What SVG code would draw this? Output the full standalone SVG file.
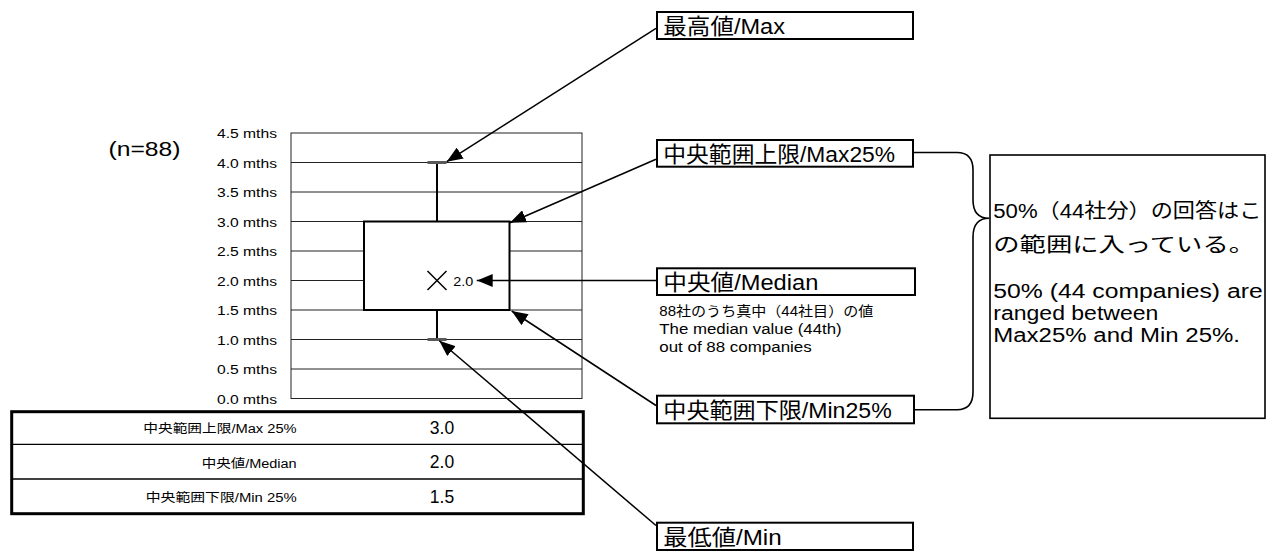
<svg xmlns="http://www.w3.org/2000/svg" width="1269" height="551" viewBox="0 0 1269 551">
<style>
text{font-family:"Liberation Sans","Noto Sans CJK JP",sans-serif;fill:#000}
.ax{font-size:12px;text-anchor:end}
.grid{stroke:#222;stroke-width:1;fill:none}
.lbl rect{fill:#fff;stroke:#000;stroke-width:2}
.lbl text{font-size:22px}
.conn line{stroke:#000;stroke-width:1.5}
.sub{font-size:14px}
.rb{font-size:20px}
.tl{font-size:12.5px;text-anchor:end}
.tv{font-size:17.5px;text-anchor:middle}
</style>
<defs>
<marker id="ah" markerUnits="userSpaceOnUse" markerWidth="16" markerHeight="13" refX="16" refY="6.5" orient="auto">
<path d="M0,0 L16,6.5 L0,13 z" fill="#000"/>
</marker>
</defs>
<rect width="1269" height="551" fill="#fff"/>

<g id="n-label"><text x="108.5" y="156" font-size="20" textLength="72" lengthAdjust="spacingAndGlyphs">(n=88)</text></g>

<g id="chart">
<g id="axis-labels">
<text class="ax" x="277" y="138" textLength="60" lengthAdjust="spacingAndGlyphs">4.5 mths</text>
<text class="ax" x="277" y="167.5" textLength="60" lengthAdjust="spacingAndGlyphs">4.0 mths</text>
<text class="ax" x="277" y="197" textLength="60" lengthAdjust="spacingAndGlyphs">3.5 mths</text>
<text class="ax" x="277" y="226.5" textLength="60" lengthAdjust="spacingAndGlyphs">3.0 mths</text>
<text class="ax" x="277" y="256" textLength="60" lengthAdjust="spacingAndGlyphs">2.5 mths</text>
<text class="ax" x="277" y="285.5" textLength="60" lengthAdjust="spacingAndGlyphs">2.0 mths</text>
<text class="ax" x="277" y="315" textLength="60" lengthAdjust="spacingAndGlyphs">1.5 mths</text>
<text class="ax" x="277" y="344.5" textLength="60" lengthAdjust="spacingAndGlyphs">1.0 mths</text>
<text class="ax" x="277" y="374" textLength="60" lengthAdjust="spacingAndGlyphs">0.5 mths</text>
<text class="ax" x="277" y="403.5" textLength="60" lengthAdjust="spacingAndGlyphs">0.0 mths</text>
</g>
<g id="gridlines" class="grid">
<rect x="291" y="133" width="291" height="265.5"/>
<line x1="291" y1="162.5" x2="582" y2="162.5"/>
<line x1="291" y1="192" x2="582" y2="192"/>
<line x1="291" y1="221.5" x2="582" y2="221.5"/>
<line x1="291" y1="251" x2="582" y2="251"/>
<line x1="291" y1="280.5" x2="582" y2="280.5"/>
<line x1="291" y1="310" x2="582" y2="310"/>
<line x1="291" y1="339.5" x2="582" y2="339.5"/>
<line x1="291" y1="369" x2="582" y2="369"/>
</g>
<g id="boxplot">
<line x1="437" y1="162.5" x2="437" y2="221.5" stroke="#000" stroke-width="2"/>
<line x1="437" y1="310" x2="437" y2="339.5" stroke="#000" stroke-width="2"/>
<rect x="364" y="221.5" width="145.5" height="88.5" fill="#fff" stroke="#000" stroke-width="2"/>
<line x1="427.5" y1="162.5" x2="446.5" y2="162.5" stroke="#595959" stroke-width="3"/>
<line x1="427.5" y1="339.5" x2="446.5" y2="339.5" stroke="#595959" stroke-width="3"/>
<path d="M427.5,271 L446.5,290 M446.5,271 L427.5,290" stroke="#000" stroke-width="1.5" fill="none"/>
<text x="453.3" y="285.7" font-size="13.5" textLength="20" lengthAdjust="spacingAndGlyphs">2.0</text>
</g>
</g>

<g id="table">
<rect x="11.7" y="411.7" width="571.6" height="102" fill="#fff" stroke="#000" stroke-width="3"/>
<line x1="11.7" y1="444.3" x2="583.3" y2="444.3" stroke="#000" stroke-width="1.3"/>
<line x1="11.7" y1="479" x2="583.3" y2="479" stroke="#000" stroke-width="1.3"/>
<text class="tl" x="296.7" y="433.3" textLength="153.4" lengthAdjust="spacingAndGlyphs">中央範囲上限/Max 25%</text>
<text class="tl" x="296.7" y="467.7" textLength="95" lengthAdjust="spacingAndGlyphs">中央値/Median</text>
<text class="tl" x="296.7" y="502" textLength="151" lengthAdjust="spacingAndGlyphs">中央範囲下限/Min 25%</text>
<text class="tv" x="442" y="433.8">3.0</text>
<text class="tv" x="442" y="468.3">2.0</text>
<text class="tv" x="442" y="503">1.5</text>
</g>

<g id="label-max" class="lbl">
<rect x="657" y="12" width="256" height="27"/>
<text x="663.3" y="34" textLength="121.7" lengthAdjust="spacingAndGlyphs">最高値/Max</text>
</g>
<g id="label-max25" class="lbl">
<rect x="657" y="140" width="256" height="26.7"/>
<text x="663.3" y="161.5" textLength="231.7" lengthAdjust="spacingAndGlyphs">中央範囲上限/Max25%</text>
</g>
<g id="label-median" class="lbl">
<rect x="657" y="268.3" width="258" height="26.7"/>
<text x="663.3" y="290" textLength="155" lengthAdjust="spacingAndGlyphs">中央値/Median</text>
</g>
<g id="median-note">
<text class="sub" x="659.3" y="316" textLength="214" lengthAdjust="spacingAndGlyphs">88社のうち真中（44社目）の値</text>
<text class="sub" x="659.3" y="334" textLength="182.4" lengthAdjust="spacingAndGlyphs">The median value (44th)</text>
<text class="sub" x="659.3" y="352" textLength="152.4" lengthAdjust="spacingAndGlyphs">out of 88 companies</text>
</g>
<g id="label-min25" class="lbl">
<rect x="657" y="395.7" width="257" height="27.6"/>
<text x="663.3" y="418" textLength="228.4" lengthAdjust="spacingAndGlyphs">中央範囲下限/Min25%</text>
</g>
<g id="label-min" class="lbl">
<rect x="657" y="522.7" width="256" height="27.3"/>
<text x="663.3" y="545" textLength="118.4" lengthAdjust="spacingAndGlyphs">最低値/Min</text>
</g>

<g id="note-box">
<rect x="990" y="155" width="275" height="263.3" fill="#fff" stroke="#000" stroke-width="1.6"/>
<text class="rb" x="993.3" y="218" textLength="268" lengthAdjust="spacingAndGlyphs">50%（44社分）の回答はこ</text>
<text class="rb" x="993.3" y="252" textLength="261.7" lengthAdjust="spacingAndGlyphs">の範囲に入っている。</text>
<text class="rb" x="993.3" y="298.3" textLength="269.4" lengthAdjust="spacingAndGlyphs">50% (44 companies) are</text>
<text class="rb" x="993.3" y="320" textLength="165" lengthAdjust="spacingAndGlyphs">ranged between</text>
<text class="rb" x="993.3" y="341.7" textLength="246.7" lengthAdjust="spacingAndGlyphs">Max25% and Min 25%.</text>
</g>

<g id="connectors" class="conn">
<line x1="656" y1="28.3" x2="446.7" y2="161.7" marker-end="url(#ah)"/>
<line x1="656" y1="159.3" x2="510" y2="222.7" marker-end="url(#ah)"/>
<line x1="656" y1="280.5" x2="476.7" y2="280.5" marker-end="url(#ah)"/>
<line x1="656" y1="405.5" x2="511.7" y2="311" marker-end="url(#ah)"/>
<line x1="656" y1="525.5" x2="439.3" y2="340.7" marker-end="url(#ah)"/>
<path id="brace" d="M913,152.5 H957 Q973,152.5 973,170 V200 Q973,218.3 989.3,218.3 Q973,218.3 973,237 V392 Q973,409.7 957,409.7 H914" fill="none" stroke="#000" stroke-width="1.6"/>
</g>
</svg>
